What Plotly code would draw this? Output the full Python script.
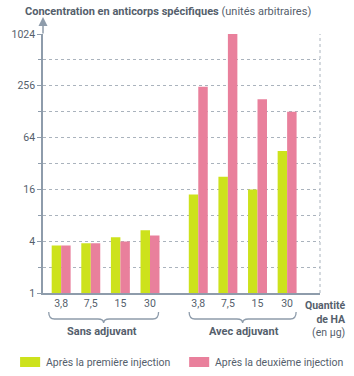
import plotly.graph_objects as go

# ---- data ----
doses = ["3,8", "7,5", "15", "30"]
groups = ["Sans adjuvant", "Avec adjuvant"]
first_sans = [3.56, 3.79, 4.45, 5.38]
second_sans = [3.56, 3.79, 3.97, 4.66]
first_avec = [14.0, 22.5, 16.0, 44.7]
second_avec = [250, 1024, 179, 128]
series_names = ["Après la première injection", "Après la deuxième injection"]
ytick_vals = [1, 4, 16, 64, 256, 1024]
ygrid_vals = [2, 8, 32, 128, 512]

GREEN = "#cde21c"
PINK = "#e9809c"
TXT = "#55606c"
AXIS = "#8e9cab"
FONT = "Roboto"

W, H = 354, 376
L, R, T, B = 30, 34, 34, 83
PW, PH = W - L - R, H - T - B

def px(xp):
    return (xp - L) / PW

def py(yp):
    return (H - B - yp) / PH

pos_sans = [0, 1, 2, 3]
pos_avec = [4.63, 5.63, 6.63, 7.63]
xpos = pos_sans + pos_avec
first = first_sans + first_avec
second = second_sans + second_avec
bw = 0.32

fig = go.Figure()
fig.add_bar(x=xpos, y=first, name=series_names[0], marker_color=GREEN,
            width=bw, offset=-bw, marker_line_width=0, showlegend=False)
fig.add_bar(x=xpos, y=second, name=series_names[1], marker_color=PINK,
            width=bw, offset=0, marker_line_width=0, showlegend=False)

fig.update_layout(
    width=W, height=H,
    margin=dict(l=L, r=R, t=T, b=B, pad=0),
    paper_bgcolor="white", plot_bgcolor="white",
    font=dict(family=FONT, color=TXT, size=10.5),
    barmode="overlay",
    xaxis=dict(range=[-0.613, 8.74], tickvals=xpos, ticktext=doses + doses,
               showgrid=False, zeroline=False, showline=True, linecolor=AXIS,
               linewidth=1.5, ticks="", tickfont=dict(size=10.5, color=TXT)),
    yaxis=dict(type="log", range=[0, 3.0103], tickvals=ytick_vals,
               ticktext=[str(v) for v in ytick_vals],
               showgrid=True, gridcolor="#aab3bd", griddash="dot", gridwidth=1,
               showline=True, linecolor=AXIS, linewidth=1.5,
               ticks="outside", ticklen=4, tickcolor=AXIS,
               tickfont=dict(size=10.5, color=TXT),
               minor=dict(tickvals=ygrid_vals, showgrid=True, gridcolor="#aab3bd",
                          griddash="dot", gridwidth=1, ticks="outside", ticklen=3,
                          tickcolor=AXIS)),
)

shapes = []
# right dotted border
shapes.append(dict(type="line", xref="paper", yref="paper", x0=1, x1=1, y0=0, y1=1,
                   line=dict(color="#aab3bd", width=1, dash="dot")))

# braces
def brace(x0, x1, ytop=312, ymid=319, ytip=323):
    xm = (x0 + x1) / 2
    pts = (f"M {px(x0)},{py(ytop)} Q {px(x0)},{py(ymid)} {px(x0+6)},{py(ymid)} "
           f"L {px(xm-6)},{py(ymid)} Q {px(xm)},{py(ymid)} {px(xm)},{py(ytip)} "
           f"Q {px(xm)},{py(ymid)} {px(xm+6)},{py(ymid)} "
           f"L {px(x1-6)},{py(ymid)} Q {px(x1)},{py(ymid)} {px(x1)},{py(ytop)}")
    return dict(type="path", xref="paper", yref="paper", path=pts,
                line=dict(color=AXIS, width=1.3))

shapes.append(brace(36, 151))
shapes.append(brace(183, 295))

# legend boxes
shapes.append(dict(type="rect", xref="paper", yref="paper", x0=px(6), x1=px(27),
                   y0=py(367), y1=py(357), fillcolor=GREEN, line_width=0))
shapes.append(dict(type="rect", xref="paper", yref="paper", x0=px(183), x1=px(204),
                   y0=py(367), y1=py(357), fillcolor=PINK, line_width=0))
fig.update_layout(shapes=shapes)

ann = []
ann.append(dict(xref="paper", yref="paper", x=px(9), y=py(12), xanchor="left",
                yanchor="middle", showarrow=False,
                text="<b>Concentration en anticorps spécifiques</b> (unités arbitraires)",
                font=dict(size=11, color=TXT)))
# axis arrow
ann.append(dict(xref="paper", yref="paper", x=0, y=py(17), ax=0, ay=18,
                axref="pixel", ayref="pixel", text="", showarrow=True,
                arrowhead=2, arrowsize=1.2, arrowwidth=1.5, arrowcolor=AXIS))
ann.append(dict(xref="paper", yref="paper", x=px(92), y=py(331), xanchor="center",
                yanchor="middle", showarrow=False,
                text="<b>" + groups[0] + "</b>", font=dict(size=11, color=TXT)))
ann.append(dict(xref="paper", yref="paper", x=px(240), y=py(331), xanchor="center",
                yanchor="middle", showarrow=False,
                text="<b>" + groups[1] + "</b>", font=dict(size=11, color=TXT)))
ann.append(dict(xref="paper", yref="paper", x=px(349), y=py(297), xanchor="right",
                yanchor="top", align="right", showarrow=False,
                text="<b>Quantité</b><br><b>de HA</b><br>(en µg)",
                font=dict(size=10.5, color=TXT)))
ann.append(dict(xref="paper", yref="paper", x=px(31), y=py(362), xanchor="left",
                yanchor="middle", showarrow=False, text=series_names[0],
                font=dict(size=10.5, color=TXT)))
ann.append(dict(xref="paper", yref="paper", x=px(208), y=py(362), xanchor="left",
                yanchor="middle", showarrow=False, text=series_names[1],
                font=dict(size=10.5, color=TXT)))
fig.update_layout(annotations=ann)

fig.write_html("out.html")
